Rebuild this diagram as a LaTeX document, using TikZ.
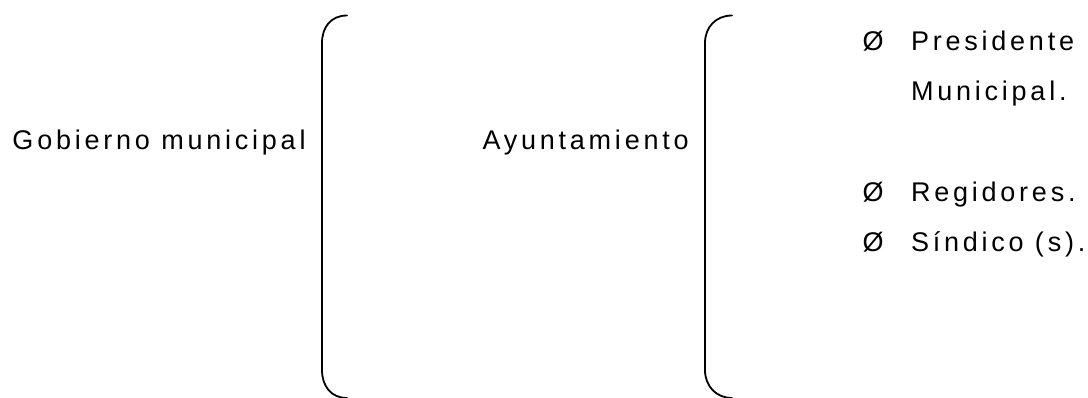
\documentclass[tikz,border=0pt]{standalone}
\usepackage{fontspec}
\setmainfont{Liberation Sans}[LetterSpace=14]
\begin{document}
\begin{tikzpicture}[x=1pt,y=-1pt,
  lbl/.style={anchor=base west,inner sep=0pt,outer sep=0pt,font=\fontsize{27}{32}\selectfont},
  brace/.style={line width=1.8pt,line cap=round}]
\useasboundingbox (0,0) rectangle (1088,397);
\node[lbl] (gob) at (12.5,149) {Gobierno municipal};
\node[lbl] (ayu) at (482.5,149) {Ayuntamiento};
\node[lbl] (b1) at (862.5,50) {Ø};
\node[lbl] (pre) at (911,50) {Presidente};
\node[lbl] (mun) at (911,100) {Municipal.};
\node[lbl] (b2) at (862.5,201) {Ø};
\node[lbl] (reg) at (911,201) {Regidores.};
\node[lbl] (b3) at (862.5,251) {Ø};
\node[lbl] (sin) at (911,251) {Síndico (s).};
\draw[brace] (347,15.5) .. controls (331,15.5) and (322,27) .. (322,43) -- (322,370) .. controls (322,386) and (331,398) .. (347,398);
\draw[brace] (732,15.5) .. controls (716,15.5) and (705,27) .. (705,43) -- (705,370) .. controls (705,386) and (716,398) .. (732,398);
\end{tikzpicture}
\end{document}
